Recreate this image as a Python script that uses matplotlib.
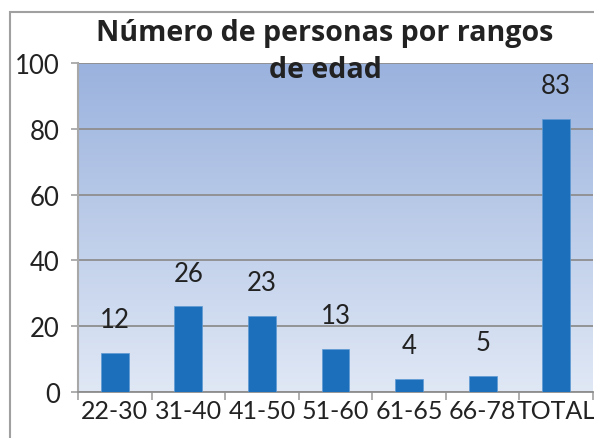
import numpy as np
import matplotlib
matplotlib.use("Agg")
import matplotlib.pyplot as plt
from matplotlib.patches import Rectangle

categories = ["22-30", "31-40", "41-50", "51-60", "61-65", "66-78", "TOTAL"]
counts = [12, 26, 23, 13, 4, 5, 83]
yticks = [0, 20, 40, 60, 80, 100]
title_lines = ["Número de personas por rangos", "de edad"]

plt.rcParams["font.family"] = ["Lato", "DejaVu Sans"]

fig = plt.figure(figsize=(5.94, 4.39), dpi=100)
ax = fig.add_axes([78 / 594, 1 - 393 / 439, (593 - 78) / 594, (393 - 64) / 439])

# gradient background of the plot area
grad = np.linspace(0, 1, 256).reshape(-1, 1)
cmap = matplotlib.colors.LinearSegmentedColormap.from_list("bg", ["#9ab2de", "#e0e8f5"])
ax.imshow(grad, aspect="auto", cmap=cmap, extent=[0, 1, 0, 1], transform=ax.transAxes, zorder=0)

x = np.arange(len(categories))
bars = ax.bar(x, counts, width=0.38, color="#1b6fbb", edgecolor="#5f9ad3", linewidth=0.5, zorder=3)

ax.set_xlim(-0.5, len(categories) - 0.5)
ax.set_ylim(0, 100)
ax.set_yticks(yticks)
ax.set_yticklabels([str(v) for v in yticks])
ax.yaxis.grid(True, color="#8e8e8e", linewidth=1.3, zorder=1)
ax.set_axisbelow(True)

ax.set_xticks(x)
ax.set_xticklabels(categories)
ax.set_xticks(np.arange(len(categories) + 1) - 0.5, minor=True)
ax.tick_params(axis="x", which="major", length=0, pad=5, labelsize=18, colors="#222222")
ax.tick_params(axis="x", which="minor", length=6, width=1.3, color="#a8a8a8")
ax.tick_params(axis="y", length=5, width=1.3, color="#a8a8a8", pad=8, labelsize=18.5, labelcolor="#222222")

for side in ["top", "right"]:
    ax.spines[side].set_visible(False)
ax.spines["left"].set_color("#a8a8a8")
ax.spines["left"].set_linewidth(1.5)
ax.spines["bottom"].set_color("#8e8e8e")
ax.spines["bottom"].set_linewidth(1.3)

for b, v in zip(bars, counts):
    ax.annotate(str(v), xy=(b.get_x() + b.get_width() / 2, v), xytext=(0, 24),
                textcoords="offset points", ha="center", va="center",
                fontsize=18.5, color="#222222", zorder=5)

# chart border
fig.patches.append(Rectangle((10 / 594, -0.1), 1.2, 1.1 - 13 / 439, transform=fig.transFigure,
                             fill=False, edgecolor="#a0a0a0", linewidth=1.5))

# title, one text per line
for line, base_px in zip(title_lines, [41, 78]):
    fig.text(325 / 594, 1 - base_px / 439, line, ha="center", va="baseline", fontsize=20.6,
             fontweight="bold", color="#222222", family=["Open Sans", "DejaVu Sans"])

fig.savefig("out.png", dpi=100)
